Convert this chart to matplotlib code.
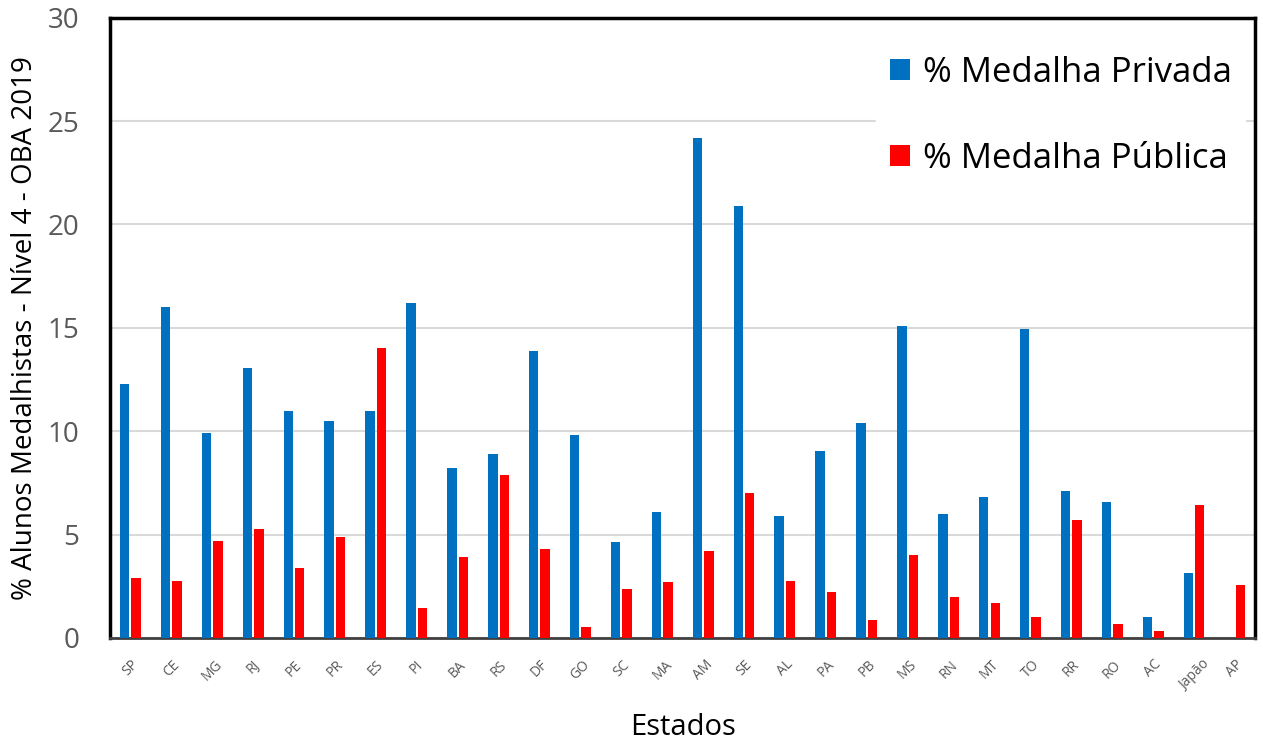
import numpy as np
import matplotlib
matplotlib.use("Agg")
import matplotlib.pyplot as plt

estados = ['SP', 'CE', 'MG', 'RJ', 'PE', 'PR', 'ES', 'PI', 'BA', 'RS', 'DF', 'GO', 'SC', 'MA',
           'AM', 'SE', 'AL', 'PA', 'PB', 'MS', 'RN', 'MT', 'TO', 'RR', 'RO', 'AC', 'Japão', 'AP']
privada = [12.3, 16.0, 9.9, 13.05, 11.0, 10.5, 11.0, 16.2, 8.2, 8.9, 13.9, 9.8, 4.65, 6.1,
           24.2, 20.9, 5.9, 9.05, 10.4, 15.1, 6.0, 6.8, 14.95, 7.1, 6.55, 1.0, 3.15, 0]
publica = [2.9, 2.75, 4.7, 5.25, 3.4, 4.9, 14.0, 1.45, 3.9, 7.9, 4.3, 0.55, 2.35, 2.7,
           4.2, 7.0, 2.75, 2.2, 0.85, 4.0, 2.0, 1.7, 1.0, 5.72, 0.65, 0.32, 6.42, 2.55]

plt.rcParams['font.family'] = ['Open Sans', 'DejaVu Sans']

fig = plt.figure(figsize=(12.63, 7.40), dpi=100)
ax = fig.add_axes([0.087, 0.138, 0.907, 0.838])

x = np.arange(len(estados))
w = 0.23
ax.bar(x - 0.14, privada, w, color='#0070c0', label='% Medalha Privada', zorder=3)
ax.bar(x + 0.14, publica, w, color='#ff0000', label='% Medalha Pública', zorder=3)

ax.set_xlim(-0.5, len(estados) - 0.5)
ax.set_ylim(0, 30)
ax.set_yticks(range(0, 31, 5))
ax.yaxis.grid(True, color='#d9d9d9', linewidth=1.5, zorder=0)
ax.set_xticks(x)
ax.set_xticklabels(estados, rotation=45, fontsize=10, color='#595959')
ax.tick_params(axis='x', length=0, pad=14)
ax.tick_params(axis='y', length=0, labelsize=20, labelcolor='#595959', pad=22)

for s in ['left', 'top', 'right']:
    ax.spines[s].set_linewidth(2.5)
    ax.spines[s].set_color('black')
ax.spines['bottom'].set_linewidth(2)
ax.spines['bottom'].set_color('#404040')

ax.set_ylabel('% Alunos Medalhistas - Nível 4 - OBA 2019', fontsize=20, labelpad=6)
ax.set_xlabel('Estados', fontsize=21, labelpad=14)

leg = ax.legend(loc='upper right', bbox_to_anchor=(1 - 10 / 1145, 1 - 24 / 620),
                borderaxespad=0, fontsize=25, frameon=True, framealpha=1,
                edgecolor='white', fancybox=False, handlelength=0.58, handleheight=0.58,
                labelspacing=1.5, handletextpad=0.35, borderpad=0.4)
leg.set_zorder(5)

fig.savefig('out.png', dpi=100)
